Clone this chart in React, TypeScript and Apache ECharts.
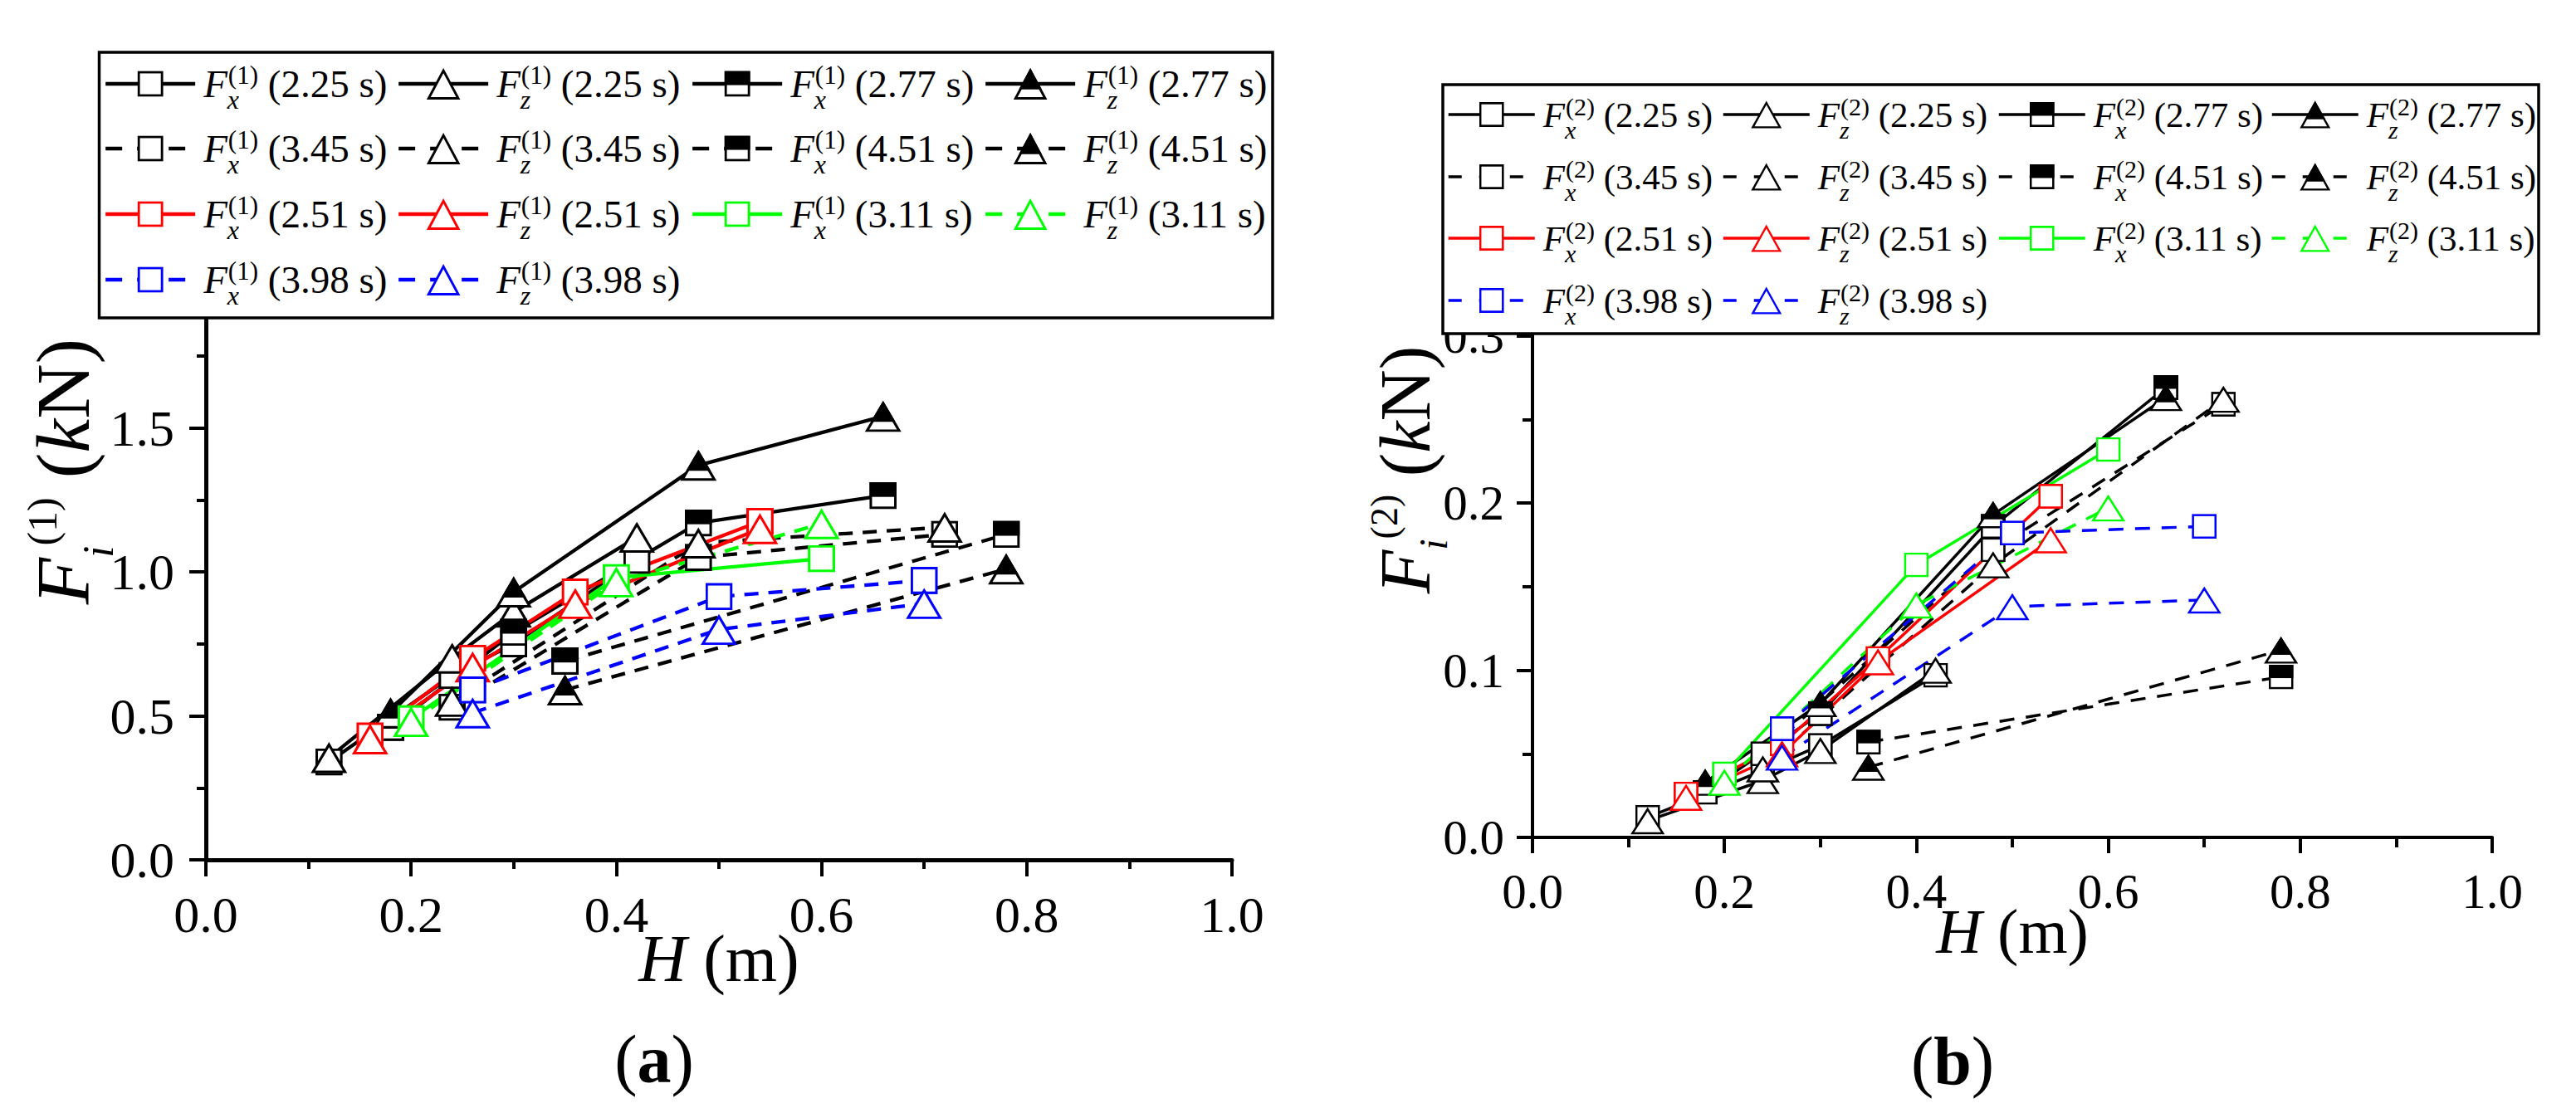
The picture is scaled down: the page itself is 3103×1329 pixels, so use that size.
import React, { useEffect, useRef } from 'react';
import * as echarts from 'echarts';

const FONT = '"Liberation Serif", "Times New Roman", serif';

// ---------- data ----------
// wave heights H (m) tested for each wave period
const H_225 = [0.12, 0.24, 0.30, 0.42];
const H_277 = [0.18, 0.30, 0.48, 0.66];
const H_345 = [0.24, 0.48, 0.72];
const H_451 = [0.35, 0.78];
const H_251 = [0.16, 0.26, 0.36, 0.54];
const H_311 = [0.20, 0.40, 0.60];
const H_398 = [0.26, 0.50, 0.70];

// panel (a): F^(1) (kN)
const FX1_225 = [0.34, 0.64, 0.75, 1.04];
const FZ1_225 = [0.355, 0.70, 0.86, 1.12];
const FX1_277 = [0.46, 0.79, 1.17, 1.265];
const FZ1_277 = [0.51, 0.93, 1.37, 1.54];
const FX1_345 = [0.53, 1.05, 1.13];
const FZ1_345 = [0.55, 1.10, 1.155];
const FX1_451 = [0.69, 1.13];
const FZ1_451 = [0.59, 1.01];
const FX1_251 = [0.43, 0.70, 0.93, 1.175];
const FZ1_251 = [0.42, 0.67, 0.89, 1.15];
const FX1_311 = [0.49, 0.98, 1.046];
const FZ1_311 = [0.48, 0.965, 1.167];
const FX1_398 = [0.59, 0.914, 0.97];
const FZ1_398 = [0.51, 0.80, 0.89];

// panel (b): F^(2) (kN)
const FX2_225 = [0.012, 0.040, 0.055, 0.097];
const FZ2_225 = [0.010, 0.034, 0.052, 0.100];
const FX2_277 = [0.027, 0.074, 0.186, 0.269];
const FZ2_277 = [0.033, 0.080, 0.193, 0.263];
const FX2_345 = [0.050, 0.172, 0.259];
const FZ2_345 = [0.041, 0.163, 0.262];
const FX2_451 = [0.057, 0.096];
const FZ2_451 = [0.042, 0.112];
const FX2_251 = [0.026, 0.056, 0.107, 0.204];
const FZ2_251 = [0.024, 0.050, 0.105, 0.178];
const FX2_311 = [0.038, 0.163, 0.232];
const FZ2_311 = [0.033, 0.139, 0.197];
const FX2_398 = [0.065, 0.182, 0.186];
const FZ2_398 = [0.048, 0.138, 0.142];

// axes
const X_RANGE = [0, 1];
const X_STEP = 0.2;
const YA_RANGE = [0, 2];
const YA_STEP = 0.5;
const YB_RANGE = [0, 0.4];
const YB_STEP = 0.1;

type Def = {
  period: string; comp: string; H: number[]; a: number[]; b: number[];
  color: string; dash: boolean; sym: 'sq' | 'tri' | 'hsq' | 'htri';
};

const DEFS: Def[] = [
  { period: '2.25', comp: 'x', H: H_225, a: FX1_225, b: FX2_225, color: '#000000', dash: false, sym: 'sq' },
  { period: '2.25', comp: 'z', H: H_225, a: FZ1_225, b: FZ2_225, color: '#000000', dash: false, sym: 'tri' },
  { period: '2.77', comp: 'x', H: H_277, a: FX1_277, b: FX2_277, color: '#000000', dash: false, sym: 'hsq' },
  { period: '2.77', comp: 'z', H: H_277, a: FZ1_277, b: FZ2_277, color: '#000000', dash: false, sym: 'htri' },
  { period: '3.45', comp: 'x', H: H_345, a: FX1_345, b: FX2_345, color: '#000000', dash: true, sym: 'sq' },
  { period: '3.45', comp: 'z', H: H_345, a: FZ1_345, b: FZ2_345, color: '#000000', dash: true, sym: 'tri' },
  { period: '4.51', comp: 'x', H: H_451, a: FX1_451, b: FX2_451, color: '#000000', dash: true, sym: 'hsq' },
  { period: '4.51', comp: 'z', H: H_451, a: FZ1_451, b: FZ2_451, color: '#000000', dash: true, sym: 'htri' },
  { period: '2.51', comp: 'x', H: H_251, a: FX1_251, b: FX2_251, color: '#ff0000', dash: false, sym: 'sq' },
  { period: '2.51', comp: 'z', H: H_251, a: FZ1_251, b: FZ2_251, color: '#ff0000', dash: false, sym: 'tri' },
  { period: '3.11', comp: 'x', H: H_311, a: FX1_311, b: FX2_311, color: '#00ff00', dash: false, sym: 'sq' },
  { period: '3.11', comp: 'z', H: H_311, a: FZ1_311, b: FZ2_311, color: '#00ff00', dash: true, sym: 'tri' },
  { period: '3.98', comp: 'x', H: H_398, a: FX1_398, b: FX2_398, color: '#0000ff', dash: true, sym: 'sq' },
  { period: '3.98', comp: 'z', H: H_398, a: FZ1_398, b: FZ2_398, color: '#0000ff', dash: true, sym: 'tri' },
];

const PANELS = [
  {
    id: 'a', sup: '1', key: 'a' as const,
    grid: { left: 248, top: 342, width: 1236, height: 694 },
    yRange: YA_RANGE, yStep: YA_STEP,
    lw: 4.3, sw: 3.2, sq: [33, 33], tri: [45, 41], dash: [17, 12], legendDash: [20, 18],
    rows: [101, 179, 258, 337], cols: [125, 478, 832, 1185], iconW: 108, L: 64,
    legSqH: 39, legTriH: 52, legFont: 47, supFont: 31, subFont: 32, supH: 42, subH: 26,
    box: { x: 119.5, y: 63, width: 1413.5, height: 320 },
    tickFont: 62, labelMargin: 35, yLabelMargin: 38, axisW: 5, tickLen: 20, minorLen: 11,
    nameFont: 80, nameGap: 79,
    yTitle: { x: 76, y: 568, font: 92, L: 110, supFont: 50, supH: 60, subFont: 52, subH: 26 },
    tag: { x: 788, y: 1276, font: 82 },
  },
  {
    id: 'b', sup: '2', key: 'b' as const,
    grid: { left: 1846, top: 203, width: 1156, height: 806 },
    yRange: YB_RANGE, yStep: YB_STEP,
    lw: 3.5, sw: 2.7, sq: [30, 30], tri: [42, 37], dash: [18, 14], legendDash: [16, 21],
    rows: [138, 213, 287, 362], cols: [1743, 2074, 2406, 2735], iconW: 104, L: 60,
    legSqH: 37.5, legTriH: 47, legFont: 43, supFont: 30, subFont: 30, supH: 40, subH: 24,
    box: { x: 1738, y: 102, width: 1320, height: 300 },
    tickFont: 59, labelMargin: 35, yLabelMargin: 34, axisW: 4, tickLen: 19, minorLen: 12,
    nameFont: 76, nameGap: 75,
    yTitle: { x: 1693, y: 566, font: 86, L: 100, supFont: 46, supH: 48, subFont: 48, subH: 34 },
    tag: { x: 2352, y: 1278, font: 82 },
  },
];

function symbolUrl(kind: string, color: string, W: number, H: number, sw: number): string {
  const h = sw / 2;
  let body = '';
  if (kind === 'sq' || kind === 'hsq') {
    body += `<rect x="${h}" y="${h}" width="${W - sw}" height="${H - sw}" fill="#ffffff" stroke="${color}" stroke-width="${sw}"/>`;
    if (kind === 'hsq') {
      body += `<rect x="0" y="0" width="${W}" height="${(H * 0.55).toFixed(2)}" fill="${color}"/>`;
    }
  } else {
    const ay = sw * 1.05;
    const by = H - h;
    const lx = sw;
    const rx = W - sw;
    body += `<polygon points="${W / 2},${ay} ${rx},${by} ${lx},${by}" fill="#ffffff" stroke="${color}" stroke-width="${sw}" stroke-linejoin="miter"/>`;
    if (kind === 'htri') {
      const t = H * 0.64;
      const f = (t - ay) / (by - ay);
      const xl = W / 2 - (W / 2 - lx) * f;
      const xr = W / 2 + (rx - W / 2) * f;
      body += `<polygon points="${W / 2},${ay} ${xr.toFixed(2)},${t.toFixed(2)} ${xl.toFixed(2)},${t.toFixed(2)}" fill="${color}" stroke="${color}" stroke-width="${sw}" stroke-linejoin="miter"/>`;
    }
  }
  const svg = `<svg xmlns="http://www.w3.org/2000/svg" width="${W}" height="${H}" viewBox="0 0 ${W} ${H}">${body}</svg>`;
  return 'image://data:image/svg+xml;charset=utf-8,' + encodeURIComponent(svg);
}

function buildOption() {
  const grids: any[] = [];
  const xAxes: any[] = [];
  const yAxes: any[] = [];
  const series: any[] = [];
  const legends: any[] = [];
  const graphics: any[] = [];

  PANELS.forEach((p, gi) => {
    grids.push({ ...p.grid });
    const axisCommon = {
      axisLine: { show: true, onZero: false, lineStyle: { color: '#000', width: p.axisW } },
      axisTick: { show: true, inside: false, length: p.tickLen, lineStyle: { color: '#000', width: 4 } },
      minorTick: { show: true, splitNumber: 2, length: p.minorLen, lineStyle: { color: '#000', width: 4 } },
      splitLine: { show: false },
      minorSplitLine: { show: false },
    };
    xAxes.push({
      type: 'value', gridIndex: gi, min: X_RANGE[0], max: X_RANGE[1], interval: X_STEP,
      ...axisCommon,
      axisLabel: {
        color: '#000', fontFamily: FONT, fontSize: p.tickFont, margin: p.labelMargin,
        formatter: (v: number) => v.toFixed(1),
      },
      name: '{i|H}{t| (m)}',
      nameLocation: 'middle',
      nameGap: p.nameGap,
      nameMoveOverlap: false,
      nameTextStyle: {
        color: '#000',
        rich: {
          i: { fontFamily: FONT, fontStyle: 'italic', fontSize: p.nameFont, lineHeight: p.nameFont, color: '#000' },
          t: { fontFamily: FONT, fontSize: p.nameFont, lineHeight: p.nameFont, color: '#000' },
        },
      },
    });
    yAxes.push({
      type: 'value', gridIndex: gi, min: p.yRange[0], max: p.yRange[1], interval: p.yStep,
      ...axisCommon,
      axisLabel: {
        color: '#000', fontFamily: FONT, fontSize: p.tickFont, margin: p.yLabelMargin,
        formatter: (v: number) => v.toFixed(1),
      },
    });

    DEFS.forEach((d, i) => {
      const isTri = d.sym === 'tri' || d.sym === 'htri';
      const size = isTri ? p.tri : p.sq;
      const name = `F${d.comp}(${p.sup}) ${d.period} s [${p.id}]`;
      const vals = p.key === 'a' ? d.a : d.b;
      series.push({
        type: 'line',
        name,
        xAxisIndex: gi,
        yAxisIndex: gi,
        data: d.H.map((h, k) => [h, vals[k]]),
        symbol: symbolUrl(d.sym, d.color, size[0], size[1], p.sw),
        symbolSize: size,
        showSymbol: true,
        lineStyle: { color: d.color, width: p.lw, type: d.dash ? p.dash : 'solid' },
        itemStyle: { color: d.color },
        silent: true,
        animation: false,
        z: 2,
      });
      const row = Math.floor(i / 4);
      const col = i % 4;
      legends.push({
        data: [name],
        left: p.cols[col],
        top: p.rows[row] - p.L / 2,
        padding: 0,
        orient: 'horizontal',
        selectedMode: false,
        z: 20,
        itemWidth: p.iconW,
        itemHeight: isTri ? p.legTriH : p.legSqH,
        lineStyle: d.dash ? { width: p.lw, type: p.legendDash } : { width: p.lw },
        formatter: () => `{F|F}{sb|${d.comp}}{sp|(${p.sup})}{t| (${d.period} s)}`,
        textStyle: {
          color: '#000',
          fontFamily: FONT,
          fontSize: p.legFont,
          lineHeight: p.L,
          rich: {
            F: { fontFamily: FONT, fontStyle: 'italic', fontSize: p.legFont, lineHeight: p.L, color: '#000', padding: [0, 0, 0, 5] },
            sb: { fontFamily: FONT, fontStyle: 'italic', fontSize: p.subFont, height: p.subH, lineHeight: p.subH, verticalAlign: 'bottom', width: 1, color: '#000' },
            sp: { fontFamily: FONT, fontSize: p.supFont, height: p.supH, lineHeight: p.supH, verticalAlign: 'top', color: '#000' },
            t: { fontFamily: FONT, fontSize: p.legFont, lineHeight: p.L, color: '#000' },
          },
        },
      });
    });

    graphics.push({
      type: 'rect', z: 10, silent: true,
      shape: { ...p.box },
      style: { fill: '#ffffff', stroke: '#000000', lineWidth: 3.5 },
    });
    const yt = p.yTitle;
    graphics.push({
      type: 'text', z: 30, silent: true,
      x: yt.x, y: yt.y, rotation: Math.PI / 2,
      style: {
        text: `{F|F}{sb|i}{sp|(${p.sup})}{t| (}{k|k}{t|N)}`,
        align: 'center', verticalAlign: 'middle', fill: '#000',
        fontFamily: FONT, fontSize: yt.font,
        rich: {
          F: { fontFamily: FONT, fontStyle: 'italic', fontSize: yt.font, lineHeight: yt.L, fill: '#000' },
          sb: { fontFamily: FONT, fontStyle: 'italic', fontSize: yt.subFont, height: yt.subH, lineHeight: yt.subH, verticalAlign: 'bottom', fill: '#000' },
          sp: { fontFamily: FONT, fontSize: yt.supFont, height: yt.supH, lineHeight: yt.supH, verticalAlign: 'top', fill: '#000' },
          t: { fontFamily: FONT, fontSize: yt.font, lineHeight: yt.L, fill: '#000' },
          k: { fontFamily: FONT, fontStyle: 'italic', fontSize: yt.font, lineHeight: yt.L, fill: '#000' },
        },
      },
    });
    graphics.push({
      type: 'text', z: 30, silent: true,
      x: p.tag.x, y: p.tag.y,
      style: {
        text: `{t|(}{b|${p.id}}{t|)}`,
        align: 'center', verticalAlign: 'middle', fill: '#000',
        fontFamily: FONT, fontSize: p.tag.font,
        rich: {
          t: { fontFamily: FONT, fontSize: p.tag.font, fill: '#000' },
          b: { fontFamily: FONT, fontSize: p.tag.font, fontWeight: 'bold', fill: '#000' },
        },
      },
    });
  });

  return {
    animation: false,
    backgroundColor: '#ffffff',
    textStyle: { fontFamily: FONT },
    grid: grids,
    xAxis: xAxes,
    yAxis: yAxes,
    legend: legends,
    series,
    graphic: { elements: graphics },
  };
}

export default function App() {
  const ref = useRef<HTMLDivElement>(null);
  useEffect(() => {
    document.body.style.margin = '0';
    if (!ref.current) return;
    const chart = echarts.init(ref.current, undefined, { renderer: 'svg' });
    chart.setOption(buildOption() as any);
    return () => {
      chart.dispose();
    };
  }, []);
  return <div ref={ref} style={{ width: 3103, height: 1329, background: '#fff' }} />;
}
